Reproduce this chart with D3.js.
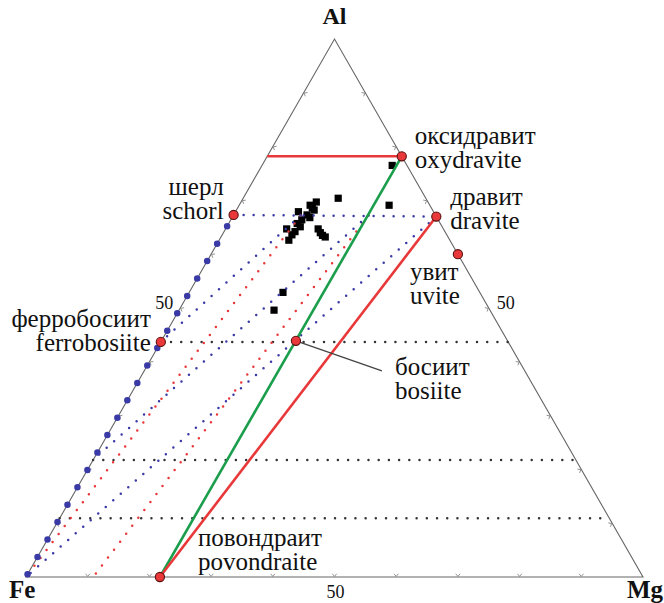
<!DOCTYPE html>
<html>
<head>
<meta charset="utf-8">
<script src="https://cdn.jsdelivr.net/npm/d3@7"></script>
<style>
  html, body { margin: 0; padding: 0; background: #fff; }
  svg { display: block; }
</style>
</head>
<body>
<svg id="chart" width="664" height="603"></svg>
<script>
// Compositions are atomic fractions on the Al - Fe - Mg triangle (Fe = 1 - Al - Mg).

// Corner components
const vertexLabels = ["Al", "Fe", "Mg"];

// End members of the tourmaline supergroup
const memberRu = ["оксидравит", "дравит", "увит", "шерл", "ферробосиит", "босиит", "повондраит"];
const memberEn = ["oxydravite", "dravite", "uvite", "schorl", "ferrobosiite", "bosiite", "povondraite"];
const memberAl = [0.782, 0.670, 0.600, 0.673, 0.437, 0.439, 0.000];
const memberMg = [0.218, 0.330, 0.400, 0.000, 0.000, 0.218, 0.217];

// Analysed tourmaline samples
const sampleAl = [0.704, 0.691, 0.765, 0.691, 0.682, 0.679, 0.673, 0.664, 0.651, 0.647,
                  0.642, 0.636, 0.626, 0.647, 0.635, 0.632, 0.529, 0.496,
                  0.686, 0.668, 0.657, 0.697, 0.640];
const sampleMg = [0.154, 0.243, 0.211, 0.115, 0.126, 0.102, 0.119, 0.115, 0.119, 0.099,
                  0.115, 0.113, 0.113, 0.150, 0.163, 0.169, 0.152, 0.154,
                  0.121, 0.126, 0.111, 0.122, 0.157];

// Solid joins, each [[Al, Mg], [Al, Mg]]
const redJoins   = [[[0.782, 0.000], [0.782, 0.218]],   // Al line through oxydravite
                    [[0.670, 0.330], [0.000, 0.217]]];  // dravite - povondraite
const greenJoins = [[[0.782, 0.218], [0.000, 0.217]]];  // oxydravite - bosiite - povondraite

// Dotted substitution lines
const blueDotted  = [[[0.673, 0.000], [0.670, 0.330]],  // schorl - dravite
                     [[0.672, 0.109], [0.437, 0.000]],
                     [[0.672, 0.219], [0.218, 0.000]],
                     [[0.670, 0.330], [0.000, 0.000]]];
const redDotted   = [[[0.672, 0.109], [0.000, 0.000]],
                     [[0.672, 0.219], [0.000, 0.109]]];
const blackDotted = [[[0.437, 0.000], [0.437, 0.563]],
                     [[0.2175, 0.000], [0.2175, 0.7825]],
                     [[0.109, 0.000], [0.109, 0.891]]];
const feAlDotted  = [[0.000, 0.000], [0.673, 0.000]];   // Fe - schorl

// Axis ticks (fraction along each side) and the labelled one
const tickValues = [0.1, 0.2, 0.3, 0.4, 0.5, 0.6, 0.7, 0.8, 0.9];
const tickLabel = "50";

// ---- layout ----
const SERIF = "'Liberation Serif', 'Times New Roman', 'DejaVu Serif', serif";
const svg = d3.select("#chart");
const xScale = d3.scaleLinear().domain([0, 1]).range([26, 643]);  // Mg + Al/2
const yScale = d3.scaleLinear().domain([0, 1]).range([577, 39]);  // Al

function pos(al, mg) { return [xScale(mg + al / 2), yScale(al)]; }
const P_Fe = pos(0, 0), P_Mg = pos(0, 1), P_Al = pos(1, 0);

const root = svg.append("g").attr("font-family", SERIF).attr("fill", "#111");

// triangle frame
root.append("path")
  .attr("d", d3.line()([P_Fe, P_Mg, P_Al]) + "Z")
  .attr("fill", "none").attr("stroke", "#666").attr("stroke-width", 1.1);

// ticks: small chevrons outside each side
const sides = [[P_Fe, P_Mg], [P_Mg, P_Al], [P_Al, P_Fe]];
sides.forEach(([A, B]) => {
  const dx = B[0] - A[0], dy = B[1] - A[1], len = Math.hypot(dx, dy);
  const ux = dx / len, uy = dy / len;
  const nx = uy, ny = -ux;  // outward normal
  tickValues.forEach(t => {
    const px = A[0] + dx * t, py = A[1] + dy * t;
    const tip = [px + nx * 0.6, py + ny * 0.6];
    const l = [px + nx * 3.2 - ux * 2.2, py + ny * 3.2 - uy * 2.2];
    const r = [px + nx * 3.2 + ux * 2.2, py + ny * 3.2 + uy * 2.2];
    root.append("path").attr("d", d3.line()([l, tip, r]))
      .attr("fill", "none").attr("stroke", "#777").attr("stroke-width", 0.8);
  });
});

// "50" tick labels
const midBottom = pos(0, 0.5), midLeft = pos(0.5, 0), midRight = pos(0.5, 0.5);
root.append("text").attr("x", midBottom[0] + 1).attr("y", midBottom[1] + 21)
  .attr("text-anchor", "middle").attr("font-size", 18).text(tickLabel);
root.append("text").attr("x", midLeft[0] - 7).attr("y", midLeft[1] + 1)
  .attr("text-anchor", "end").attr("font-size", 18).text(tickLabel);
root.append("text").attr("x", midRight[0] + 8).attr("y", midRight[1] + 1)
  .attr("text-anchor", "start").attr("font-size", 18).text(tickLabel);

const linesG = root.append("g");
function drawJoins(data, color, width, dash) {
  linesG.selectAll(null).data(data).enter().append("line")
    .attr("x1", d => pos(...d[0])[0]).attr("y1", d => pos(...d[0])[1])
    .attr("x2", d => pos(...d[1])[0]).attr("y2", d => pos(...d[1])[1])
    .attr("stroke", color).attr("stroke-width", width)
    .attr("stroke-linecap", dash ? "round" : "butt")
    .attr("stroke-dasharray", dash || null);
}

// samples (under the dotted lines)
const sampleG = linesG.append("g");
sampleG.selectAll("rect").data(sampleAl).enter().append("rect")
  .attr("x", (d, i) => pos(d, sampleMg[i])[0] - 3.6)
  .attr("y", (d, i) => pos(d, sampleMg[i])[1] - 3.6)
  .attr("width", 7.2).attr("height", 7.2).attr("fill", "#000");

drawJoins(blackDotted, "#333", 2.5, "0 10.2");
drawJoins(redDotted, "#e8383a", 2.5, "0 10");
drawJoins(blueDotted, "#3a3aa6", 2.5, "0 10");

// big dots along the Fe - schorl side
const fe0 = pos(...feAlDotted[0]), fe1 = pos(...feAlDotted[1]);
linesG.append("line")
  .attr("x1", fe0[0]).attr("y1", fe0[1]).attr("x2", fe1[0]).attr("y2", fe1[1])
  .attr("stroke", "#3a3aa6").attr("stroke-width", 6.5).attr("stroke-linecap", "round")
  .attr("stroke-dasharray", "0 20.06").attr("stroke-dashoffset", -3.1);

drawJoins(greenJoins, "#1a9e4c", 2.6, null);
drawJoins(redJoins, "#e8383a", 2.6, null);

// leader line to bosiite label
const bos = pos(memberAl[5], memberMg[5]);
root.append("line").attr("x1", bos[0]).attr("y1", bos[1])
  .attr("x2", bos[0] + 86).attr("y2", bos[1] + 30)
  .attr("stroke", "#444").attr("stroke-width", 1.3);

// end-member markers
root.selectAll("circle.member").data(memberAl).enter().append("circle")
  .attr("class", "member")
  .attr("cx", (d, i) => pos(d, memberMg[i])[0])
  .attr("cy", (d, i) => pos(d, memberMg[i])[1])
  .attr("r", 4.6).attr("fill", "#e8383a").attr("stroke", "#5a1010").attr("stroke-width", 1.1);

// end-member labels: [dx, dy of first baseline, anchor]
const labelPlace = [
  [13, -12, "start"],   // oxydravite
  [14, -12, "start"],   // dravite
  [-48, 26, "start"],   // uvite
  [-10, -20, "end"],    // schorl
  [-10, -15, "end"],    // ferrobosiite
  [99, 34, "start"],    // bosiite
  [38, -31, "start"]    // povondraite
];
const labG = root.append("g");
memberRu.forEach((ru, i) => {
  const p = pos(memberAl[i], memberMg[i]);
  const [dx, dy, anchor] = labelPlace[i];
  const t = labG.append("text").attr("x", p[0] + dx).attr("y", p[1] + dy)
    .attr("text-anchor", anchor).attr("font-size", 25);
  t.append("tspan").attr("x", p[0] + dx).text(ru);
  t.append("tspan").attr("x", p[0] + dx).attr("dy", 24).text(memberEn[i]);
});

// corner labels
root.append("text").attr("x", P_Al[0]).attr("y", P_Al[1] - 15)
  .attr("text-anchor", "middle").attr("font-size", 24).attr("font-weight", "bold").text(vertexLabels[0]);
root.append("text").attr("x", 9).attr("y", 598)
  .attr("text-anchor", "start").attr("font-size", 25).attr("font-weight", "bold").text(vertexLabels[1]);
root.append("text").attr("x", 627).attr("y", 598)
  .attr("text-anchor", "start").attr("font-size", 25).attr("font-weight", "bold").text(vertexLabels[2]);
</script>
</body>
</html>
